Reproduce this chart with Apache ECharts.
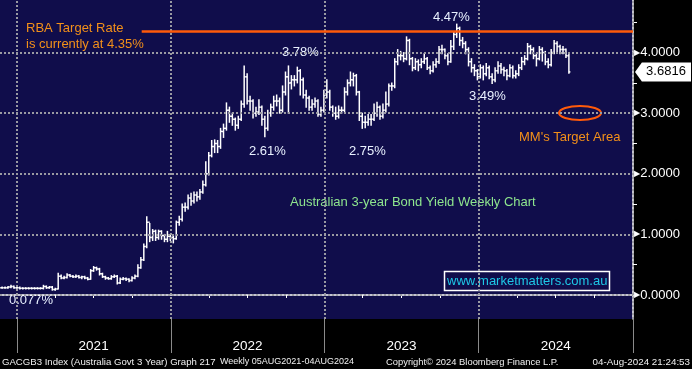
<!DOCTYPE html>
<html><head><meta charset="utf-8">
<script src="https://cdn.jsdelivr.net/npm/echarts@6/dist/echarts.min.js"></script>
<style>html,body{margin:0;padding:0;background:#000;overflow:hidden}#c{width:692px;height:369px}</style>
</head><body><div id="c"></div>
<script>
// Weekly bars (Friday week-end dates) starting from this week
const firstWeek = Date.UTC(2020, 10, 20);
const opens = [0.12,0.12,0.12,0.12,0.13,0.14,0.12,0.12,0.11,0.11,
 0.11,0.11,0.11,0.11,0.11,0.11,0.14,0.12,0.13,0.09,
 0.10,0.31,0.28,0.29,0.33,0.31,0.30,0.31,0.29,0.30,
 0.28,0.26,0.40,0.45,0.43,0.35,0.30,0.28,0.27,0.30,
 0.31,0.20,0.26,0.27,0.26,0.24,0.28,0.31,0.45,0.58,
 0.80,1.20,0.95,1.05,0.95,1.05,0.98,0.92,0.97,0.95,
 0.93,1.20,1.25,1.45,1.45,1.60,1.55,1.65,1.62,1.70,
 1.82,2.00,2.30,2.45,2.50,2.45,2.70,2.75,3.05,2.95,
 2.90,2.80,2.90,3.15,3.60,3.20,3.20,3.00,3.02,3.10,
 2.90,2.75,3.00,3.10,3.20,3.20,3.05,3.35,3.60,3.50,
 3.55,3.55,3.70,3.55,3.30,3.25,3.10,3.15,3.20,2.98,
 3.05,3.30,3.35,3.10,3.00,2.95,3.05,3.05,3.35,3.50,
 3.55,3.62,3.35,2.95,2.85,2.85,2.90,2.90,3.00,3.10,
 2.95,3.05,3.15,3.45,3.45,3.85,3.95,3.95,3.90,4.20,
 3.90,3.75,3.85,3.80,3.85,3.90,3.75,3.70,3.80,3.85,
 4.05,4.05,3.95,3.85,4.10,4.30,4.40,4.20,4.15,4.05,
 3.85,3.75,3.70,3.60,3.75,3.65,3.75,3.60,3.55,3.70,
 3.78,3.72,3.70,3.62,3.75,3.62,3.65,3.75,3.85,3.90,
 4.10,4.05,3.95,3.90,4.05,4.00,3.85,3.80,4.00,4.15,
 4.10,4.05,4.05,3.95];
const highs = [0.13,0.13,0.13,0.14,0.16,0.15,0.13,0.13,0.12,0.12,
 0.12,0.12,0.12,0.12,0.12,0.16,0.15,0.14,0.14,0.11,
 0.36,0.33,0.31,0.35,0.34,0.32,0.33,0.32,0.31,0.31,
 0.29,0.42,0.47,0.46,0.44,0.36,0.31,0.29,0.32,0.33,
 0.32,0.28,0.29,0.28,0.27,0.30,0.33,0.50,0.62,0.84,
 1.29,1.18,1.08,1.07,1.07,1.06,1.00,1.05,1.00,0.98,
 1.22,1.30,1.50,1.52,1.65,1.68,1.70,1.70,1.74,1.88,
 2.20,2.35,2.55,2.56,2.55,2.75,2.82,3.17,3.10,3.00,
 2.92,2.95,3.20,3.78,3.65,3.28,3.22,3.10,3.22,3.12,
 2.95,3.05,3.15,3.28,3.30,3.25,3.45,3.68,3.78,3.62,
 3.62,3.76,3.72,3.58,3.38,3.28,3.22,3.25,3.22,3.10,
 3.38,3.55,3.38,3.12,3.10,3.12,3.10,3.42,3.55,3.68,
 3.66,3.64,3.36,3.00,2.95,2.98,2.98,3.15,3.18,3.12,
 3.15,3.35,3.48,3.50,3.90,4.05,4.02,4.00,4.26,4.22,
 3.92,3.90,3.88,3.90,3.98,3.92,3.78,3.85,3.90,4.10,
 4.12,4.06,3.98,4.20,4.35,4.47,4.42,4.25,4.18,4.08,
 3.90,3.80,3.72,3.80,3.78,3.82,3.78,3.65,3.75,3.85,
 3.82,3.76,3.72,3.80,3.78,3.70,3.80,3.92,3.95,4.15,
 4.12,4.08,3.98,4.10,4.08,4.02,3.90,4.05,4.20,4.18,
 4.12,4.10,4.06,4.00];
const lows = [0.11,0.11,0.11,0.11,0.12,0.11,0.11,0.10,0.10,0.10,
 0.10,0.10,0.10,0.10,0.10,0.10,0.11,0.11,0.08,0.08,
 0.10,0.27,0.27,0.28,0.30,0.29,0.29,0.28,0.27,0.27,
 0.25,0.26,0.39,0.41,0.33,0.29,0.26,0.26,0.26,0.29,
 0.18,0.19,0.25,0.24,0.22,0.23,0.27,0.30,0.44,0.57,
 0.78,0.88,0.90,0.90,0.92,0.92,0.88,0.88,0.90,0.86,
 0.92,1.15,1.22,1.38,1.42,1.48,1.52,1.55,1.58,1.68,
 1.80,1.98,2.28,2.35,2.35,2.42,2.60,2.72,2.85,2.80,
 2.72,2.75,2.88,3.10,3.15,3.05,2.92,2.95,2.98,2.80,
 2.61,2.72,2.95,3.05,3.12,3.00,3.02,3.30,3.00,3.40,
 3.45,3.50,3.30,3.25,3.10,3.05,3.05,3.10,2.95,2.95,
 3.02,3.25,3.05,2.95,2.90,2.92,3.00,3.02,3.30,3.45,
 3.45,3.30,2.88,2.75,2.76,2.80,2.80,2.88,2.95,2.90,
 2.92,3.02,3.12,3.38,3.42,3.80,3.88,3.85,3.88,3.80,
 3.70,3.72,3.70,3.75,3.82,3.72,3.65,3.68,3.76,3.82,
 3.98,3.90,3.80,3.84,4.05,4.25,4.12,4.08,3.98,3.78,
 3.68,3.62,3.55,3.58,3.55,3.62,3.57,3.49,3.52,3.66,
 3.66,3.62,3.55,3.60,3.58,3.58,3.62,3.72,3.80,3.88,
 3.98,3.90,3.78,3.88,3.86,3.80,3.75,3.78,3.98,4.02,
 3.98,3.98,3.92,3.66];
const closes = [0.12,0.12,0.12,0.13,0.14,0.12,0.12,0.11,0.11,0.11,
 0.11,0.11,0.11,0.11,0.11,0.14,0.12,0.13,0.09,0.10,
 0.31,0.28,0.29,0.33,0.31,0.30,0.31,0.29,0.30,0.28,
 0.26,0.40,0.45,0.43,0.35,0.30,0.28,0.27,0.30,0.31,
 0.20,0.26,0.27,0.26,0.24,0.28,0.31,0.45,0.58,0.80,
 1.20,0.95,1.05,0.95,1.05,0.98,0.92,0.97,0.95,0.93,
 1.20,1.25,1.45,1.45,1.60,1.55,1.65,1.62,1.70,1.82,
 2.00,2.30,2.45,2.50,2.45,2.70,2.75,3.05,2.95,2.90,
 2.80,2.90,3.15,3.60,3.20,3.20,3.00,3.02,3.10,2.90,
 2.75,3.00,3.10,3.20,3.20,3.05,3.35,3.60,3.50,3.55,
 3.55,3.70,3.55,3.30,3.25,3.10,3.15,3.20,2.98,3.05,
 3.30,3.35,3.10,3.00,2.95,3.05,3.05,3.35,3.50,3.55,
 3.62,3.35,2.95,2.85,2.85,2.90,2.90,3.00,3.10,2.95,
 3.05,3.15,3.45,3.45,3.85,3.95,3.95,3.90,4.20,3.90,
 3.75,3.85,3.80,3.85,3.90,3.75,3.70,3.80,3.85,4.05,
 4.05,3.95,3.85,4.10,4.30,4.40,4.20,4.15,4.05,3.85,
 3.75,3.70,3.60,3.75,3.65,3.75,3.60,3.55,3.70,3.78,
 3.72,3.70,3.62,3.75,3.62,3.65,3.75,3.85,3.90,4.10,
 4.05,3.95,3.90,4.05,4.00,3.85,3.80,4.00,4.15,4.10,
 4.05,4.05,3.95,3.6816];

const yLabelValues = [0, 1, 2, 3, 4];
const yMinorTicks = [0.5, 1.5, 2.5, 3.5, 4.5];
const yearLabels = ['2021', '2022', '2023', '2024'];
const yearStarts = ['2021-01-01', '2022-01-01', '2023-01-01', '2024-01-01', '2025-01-01'];
const quarterStarts = ['2021-04-01','2021-07-01','2021-10-01','2022-04-01','2022-07-01','2022-10-01',
  '2023-04-01','2023-07-01','2023-10-01','2024-04-01','2024-07-01','2024-10-01'];
const lastValue = 3.6816;
const rbaRate = 4.35;
const rbaLineStart = '2021-10-24';

const DAY = 86400000;
const ts = s => { const p = s.split('-').map(Number); return Date.UTC(p[0], p[1]-1, p[2]); };
const xMin = Date.UTC(2020, 10, 22);
const xMax = Date.UTC(2025, 0, 1);
const yearMid = yearLabels.map(y => Date.UTC(+y, 6, 2));

const ohlc = closes.map((c, i) => [firstWeek + i * 7 * DAY, opens[i], highs[i], lows[i], c]);

const GRID = '#9a9aa2';
const FONT = '"Liberation Sans", Arial, sans-serif';
const LBL = '#e8f0ff';
const ORANGE_TXT = '#f39019';
const ORANGE_LN = '#ff5a0a';

const chart = echarts.init(document.getElementById('c'), null, {renderer: 'canvas'});
chart.setOption({
  backgroundColor: '#000',
  animation: false,
  grid: {left: 0, right: 59, top: 0, bottom: 50, show: true, backgroundColor: '#100d4b', borderWidth: 0},
  xAxis: [{
    type: 'value', min: xMin, max: xMax, position: 'bottom',
    axisLine: {show: true, lineStyle: {color: '#fff', width: 1.5}},
    axisTick: {show: true, customValues: quarterStarts.map(ts), length: 3, lineStyle: {color: '#fff', width: 1}},
    axisLabel: {show: true, customValues: yearMid, margin: 20, color: '#fff', fontSize: 13.5, fontFamily: FONT,
      formatter: v => String(new Date(v).getUTCFullYear())},
    splitLine: {show: false}
  }, {
    type: 'value', min: xMin, max: xMax, position: 'bottom',
    axisLine: {show: false},
    axisTick: {show: true, customValues: yearStarts.map(ts), length: 34, lineStyle: {color: '#8a8a8a', width: 1}},
    axisLabel: {show: false},
    splitLine: {show: false}
  }],
  yAxis: [{
    type: 'value', position: 'right', min: -0.396, max: 4.868,
    axisLine: {show: true, lineStyle: {color: '#fff', width: 1.5}},
    axisTick: {show: true, customValues: yMinorTicks, length: 4, lineStyle: {color: '#fff'}},
    axisLabel: {show: true, customValues: yLabelValues, margin: 1,
      formatter: v => '{t|\u25B6}{v|' + v.toFixed(4) + '}',
      rich: {t: {fontSize: 8, color: '#fff', fontFamily: 'DejaVu Sans'},
             v: {fontSize: 13, color: '#fff', fontFamily: FONT}}},
    splitLine: {show: false}
  }],
  series: [{
    type: 'line', data: [], silent: true, z: 1,
    markLine: {
      silent: true, symbol: 'none', animation: false,
      label: {show: false},
      lineStyle: {color: GRID, type: [2, 2], width: 2},
      data: yLabelValues.map(v => ({yAxis: v})).concat(yearStarts.map(s => ({xAxis: ts(s)})))
    }
  }, {
    type: 'line', data: [], silent: true, z: 5,
    markLine: {
      silent: true, symbol: 'none', animation: false,
      label: {show: false},
      lineStyle: {color: ORANGE_LN, type: 'solid', width: 2.5},
      data: [[{coord: [ts(rbaLineStart), rbaRate]}, {coord: [xMax, rbaRate]}]]
    },
    markPoint: {
      silent: true, animation: false,
      symbol: 'path://M0,10L7,0L57,0L57,20L7,20Z', symbolSize: [56, 19], symbolKeepAspect: false,
      symbolOffset: [30, 0],
      itemStyle: {color: '#fff'},
      label: {show: true, position: 'inside', formatter: lastValue.toFixed(4), color: '#000', fontSize: 13, fontFamily: FONT, offset: [3, 0]},
      data: [{coord: [xMax, lastValue]}]
    }
  }, {
    type: 'custom', z: 3, clip: true,
    data: ohlc,
    encode: {x: 0, y: [1, 2, 3, 4]},
    renderItem: function (params, api) {
      const x = api.value(0);
      const o = api.coord([x, api.value(1)]);
      const h = api.coord([x, api.value(2)]);
      const l = api.coord([x, api.value(3)]);
      const c = api.coord([x, api.value(4)]);
      const px = o[0];
      const st = {stroke: '#fff', lineWidth: 1.5};
      return {type: 'group', children: [
        {type: 'line', shape: {x1: px, y1: h[1] - 0.5, x2: px, y2: l[1] + 0.5}, style: st},
        {type: 'line', shape: {x1: px - 1.5, y1: o[1], x2: px, y2: o[1]}, style: st},
        {type: 'line', shape: {x1: px, y1: c[1], x2: px + 1.5, y2: c[1]}, style: st}
      ]};
    }
  }],
  graphic: [
    {type: 'text', x: 26, y: 28, style: {text: 'RBA Target Rate', fill: ORANGE_TXT, font: '13px ' + FONT, verticalAlign: 'middle'}},
    {type: 'text', x: 26, y: 44.5, style: {text: 'is currently at 4.35%', fill: ORANGE_TXT, font: '13px ' + FONT, verticalAlign: 'middle'}},
    {type: 'text', x: 433, y: 17, style: {text: '4.47%', fill: LBL, font: '13px ' + FONT, verticalAlign: 'middle'}},
    {type: 'text', x: 282, y: 52, style: {text: '3.78%', fill: LBL, font: '13px ' + FONT, verticalAlign: 'middle'}},
    {type: 'text', x: 249, y: 151, style: {text: '2.61%', fill: LBL, font: '13px ' + FONT, verticalAlign: 'middle'}},
    {type: 'text', x: 349, y: 151, style: {text: '2.75%', fill: LBL, font: '13px ' + FONT, verticalAlign: 'middle'}},
    {type: 'text', x: 469, y: 96, style: {text: '3.49%', fill: LBL, font: '13px ' + FONT, verticalAlign: 'middle'}},
    {type: 'text', x: 9, y: 300, style: {text: '0.077%', fill: LBL, font: '13px ' + FONT, verticalAlign: 'middle'}},
    {type: 'text', x: 519, y: 137, style: {text: "MM's Target Area", fill: ORANGE_TXT, font: '13px ' + FONT, verticalAlign: 'middle'}},
    {type: 'ellipse', shape: {cx: 580, cy: 113, rx: 21, ry: 7}, style: {fill: 'none', stroke: ORANGE_LN, lineWidth: 2}},
    {type: 'text', x: 290, y: 202, style: {text: 'Australian 3-year Bond Yield Weekly Chart', fill: '#8ee68e', font: '13px ' + FONT, verticalAlign: 'middle'}},
    {type: 'rect', shape: {x: 444.5, y: 271.5, width: 165, height: 19}, style: {fill: 'none', stroke: '#fff', lineWidth: 1.5}},
    {type: 'text', x: 447, y: 281, style: {text: 'www.marketmatters.com.au', fill: '#1ec8e6', font: '13px ' + FONT, verticalAlign: 'middle'}},
    {type: 'text', x: 2, y: 362, style: {text: 'GACGB3 Index (Australia Govt 3 Year) Graph 217', fill: '#f0f0f0', font: '9.6px ' + FONT, verticalAlign: 'middle'}},
    {type: 'text', x: 220, y: 362, style: {text: 'Weekly 05AUG2021-04AUG2024', fill: '#f0f0f0', font: '9px ' + FONT, verticalAlign: 'middle'}},
    {type: 'text', x: 386, y: 362, style: {text: 'Copyright\u00A9 2024 Bloomberg Finance L.P.', fill: '#f0f0f0', font: '9.4px ' + FONT, verticalAlign: 'middle'}},
    {type: 'text', x: 690, y: 362, style: {text: '04-Aug-2024 21:24:53', fill: '#f0f0f0', font: '9.8px ' + FONT, verticalAlign: 'middle', align: 'right'}}
  ]
});
</script></body></html>
